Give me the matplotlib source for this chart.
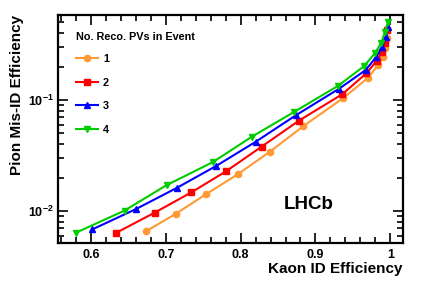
import matplotlib
matplotlib.use("Agg")
import matplotlib.pyplot as plt
from matplotlib.ticker import MultipleLocator, LogLocator, NullFormatter, FuncFormatter
import numpy as np

plt.rcParams['font.family'] = ['Liberation Sans', 'DejaVu Sans']
plt.rcParams['mathtext.fontset'] = 'custom'
plt.rcParams['mathtext.rm'] = 'Liberation Sans:bold'
plt.rcParams['mathtext.bf'] = 'Liberation Sans:bold'
plt.rcParams['mathtext.it'] = 'Liberation Sans:bold'

# Data
labels = ["1", "2", "3", "4"]
eff_1 = [0.674, 0.714, 0.754, 0.796, 0.839, 0.884, 0.937, 0.970, 0.984, 0.990, 0.993, 0.995]
mis_1 = [0.0066, 0.0095, 0.0142, 0.0214, 0.0342, 0.0583, 0.104, 0.158, 0.207, 0.245, 0.292, 0.36]
eff_2 = [0.634, 0.685, 0.734, 0.781, 0.828, 0.878, 0.936, 0.968, 0.982, 0.989, 0.993, 0.996]
mis_2 = [0.00638, 0.00966, 0.0147, 0.0229, 0.038, 0.0652, 0.113, 0.174, 0.226, 0.272, 0.328, 0.427]
eff_3 = [0.602, 0.660, 0.715, 0.767, 0.820, 0.874, 0.932, 0.967, 0.981, 0.989, 0.994, 0.997]
mis_3 = [0.00684, 0.0104, 0.0162, 0.0254, 0.042, 0.073, 0.127, 0.186, 0.243, 0.298, 0.372, 0.457]
eff_4 = [0.580, 0.645, 0.701, 0.763, 0.815, 0.872, 0.930, 0.965, 0.980, 0.988, 0.993, 0.997]
mis_4 = [0.00638, 0.0101, 0.0171, 0.0276, 0.0467, 0.0785, 0.134, 0.202, 0.267, 0.328, 0.412, 0.507]

series = [(eff_1, mis_1), (eff_2, mis_2), (eff_3, mis_3), (eff_4, mis_4)]
colors = ["#ff9933", "#ff0000", "#0000ff", "#00cc00"]
markers = ["o", "s", "^", "v"]

fig = plt.figure(figsize=(4.27, 2.87), dpi=100)
ax = fig.add_axes([58/427, 1-243/287, (403-58)/427, (243-15)/287])

for (x, y), c, m, lab in zip(series, colors, markers, labels):
    ax.plot(x, y, color=c, marker=m, markersize=4.5, linewidth=1.5, label=lab)

ax.set_yscale('log')
ax.set_xlim(0.556, 1.017)
ax.set_ylim(10**(-2.288), 10**(-0.234))

ax.xaxis.set_major_locator(MultipleLocator(0.1))
ax.xaxis.set_minor_locator(MultipleLocator(0.02))
ax.xaxis.set_major_formatter(FuncFormatter(lambda v, p: "1" if abs(v-1) < 1e-9 else f"{v:.1f}"))
ax.yaxis.set_major_locator(LogLocator(base=10))
ax.yaxis.set_minor_locator(LogLocator(base=10, subs=np.arange(2, 10)))
ax.yaxis.set_minor_formatter(NullFormatter())
ax.yaxis.set_major_formatter(FuncFormatter(lambda v, p: r"$10^{%d}$" % int(round(np.log10(v)))))

ax.tick_params(which='both', direction='in', top=True, right=True, width=1.2)
ax.tick_params(which='major', length=7)
ax.tick_params(which='minor', length=4)
ax.tick_params(axis='both', labelsize=9, pad=4)
ax.tick_params(axis='y', pad=3)
for lbl in ax.get_xticklabels() + ax.get_yticklabels():
    lbl.set_fontweight('bold')
for s in ax.spines.values():
    s.set_linewidth(1.6)

ax.set_xlabel("Kaon ID Efficiency", fontsize=11, fontweight='bold', loc='right', labelpad=1)
ax.set_ylabel("Pion Mis-ID Efficiency", fontsize=11, fontweight='bold', loc='top', labelpad=3)

leg = ax.legend(title="No. Reco. PVs in Event", loc='upper left', bbox_to_anchor=(0.03, 0.96),
                frameon=False, fontsize=7.8, title_fontsize=7.8, handlelength=2.0,
                labelspacing=1.25, alignment='left', handletextpad=0.5, borderaxespad=0.3)
leg.get_title().set_fontweight('bold')
leg._legend_box.sep = 9
for t in leg.get_texts():
    t.set_fontweight('bold')

ax.text(0.655, 0.17, "LHCb", transform=ax.transAxes, fontsize=13.5, fontweight='bold',
        ha='left', va='center')

fig.savefig("out.png", dpi=100)
